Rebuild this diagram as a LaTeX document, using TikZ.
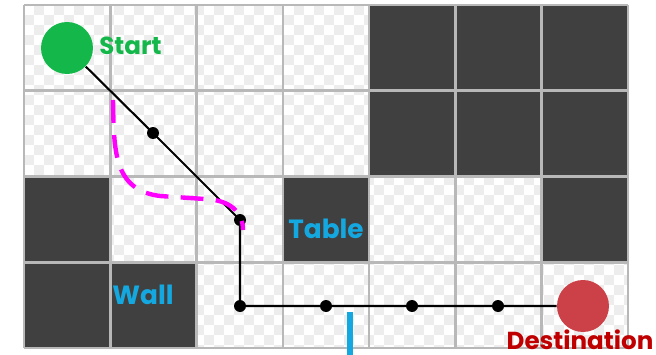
\documentclass[tikz,border=0pt]{standalone}
\usepackage{fontspec}
\setmainfont{Poppins}
\definecolor{blockgray}{HTML}{404040}
\definecolor{gridgray}{HTML}{B8B8B8}
\definecolor{checkgray}{HTML}{EDEDED}
\definecolor{startgreen}{HTML}{14B84A}
\definecolor{goalred}{HTML}{CC4048}
\definecolor{goaltext}{HTML}{C00000}
\definecolor{tagblue}{HTML}{14A8E0}
\definecolor{pathpink}{HTML}{FF00FF}
\begin{document}
\begin{tikzpicture}[x=0.02cm,y=-0.02cm,
  blocked/.style={fill=blockgray},
  waypt/.style={circle,fill=black,inner sep=0pt,minimum size=0.24cm},
  bigdot/.style={circle,inner sep=0pt,minimum size=1.04cm},
  route/.style={line width=1.2pt},
  detour/.style={pathpink,line width=2.5pt,dash pattern=on 13pt off 7pt},
  tagtext/.style={font=\bfseries\fontsize{15}{15}\selectfont},
  endtext/.style={font=\bfseries\fontsize{14}{14}\selectfont}]
  \useasboundingbox (0,0) rectangle (656,355);
  \def\cw{86.29}
  \def\ch{85.75}
  % Checkered background
  \begin{scope}
    \clip (24,5) rectangle (628,348);
    \foreach \i in {0,...,60} {
      \foreach \j in {0,...,34} {
        \pgfmathtruncatemacro{\odd}{mod(\i+\j,2)}
        \ifnum\odd=1
          \fill[checkgray] ({24+10*\i},{5+10*\j}) rectangle +(10,10);
        \fi
      }
    }
  \end{scope}
  % Blocked cells
  \foreach \i/\j in {4/0,5/0,6/0,4/1,5/1,6/1,0/2,3/2,6/2,0/3,1/3}
    \fill[blocked] ({24+\cw*\i},{5+\ch*\j}) rectangle +(\cw,\ch);
  % Grid
  \foreach \i in {0,...,7}
    \draw[gridgray,line width=1.5pt] ({24+\cw*\i},5) -- ({24+\cw*\i},348);
  \foreach \j in {0,...,4}
    \draw[gridgray,line width=1.5pt] (24,{5+\ch*\j}) -- (628,{5+\ch*\j});
  % Start and destination
  \node[bigdot,fill=startgreen] (start) at (67,48) {};
  \node[bigdot,fill=goalred] (goal) at (583,306) {};
  % Waypoints
  \node[waypt] (p1) at (153,133) {};
  \node[waypt] (p2) at (240,220) {};
  \node[waypt] (p3) at (240,306) {};
  \node[waypt] (p4) at (326,306) {};
  \node[waypt] (p5) at (412,306) {};
  \node[waypt] (p6) at (498,306) {};
  % Path
  \draw[route] (start) -- (p1.center) -- (p2.center) -- (p3.center)
    -- (p4.center) -- (p5.center) -- (p6.center) -- (goal);
  % Smoothed path
  \draw[detour] (113,100) .. controls (114,150) and (113,190) .. (160,196)
    -- (205,199) .. controls (230,200) and (243,212) .. (243,230);
  % Marker
  \draw[tagblue,line width=3.6pt] (350,312) -- (350,355);
  % Labels
  \node[endtext,text=startgreen,anchor=west,inner sep=0pt] (startlbl) at (99,46) {Start};
  \node[tagtext,text=tagblue] (tablelbl) at (326,229) {Table};
  \node[tagtext,text=tagblue] (walllbl) at (143,295) {Wall};
  \node[endtext,text=goaltext,anchor=base,inner sep=0pt] (goallbl) at (580,349) {Destination};
\end{tikzpicture}
\end{document}
